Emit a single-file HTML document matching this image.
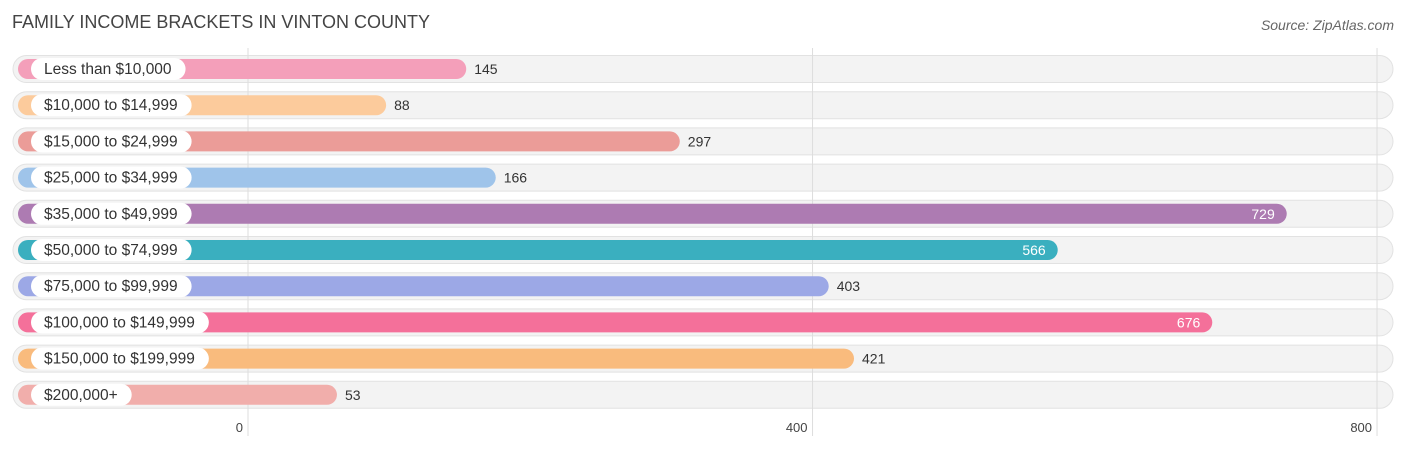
<!DOCTYPE html>
<html><head><meta charset="utf-8"><style>
body{margin:0;background:#fff;width:1406px;height:450px;overflow:hidden;font-family:"Liberation Sans",sans-serif}
</style></head><body>
<svg id="chart" width="1406" height="450" xmlns="http://www.w3.org/2000/svg">
<text x="12" y="28" font-size="18" fill="#444">FAMILY INCOME BRACKETS IN VINTON COUNTY</text>
<text x="1394" y="30" font-size="14" fill="#666" font-style="italic" text-anchor="end">Source: ZipAtlas.com</text>
<g id="bgs"></g><g id="grid"></g><g id="rows"></g><g id="ticks"></g>
</svg>
<script>
const categories=["Less than $10,000","$10,000 to $14,999","$15,000 to $24,999","$25,000 to $34,999","$35,000 to $49,999","$50,000 to $74,999","$75,000 to $99,999","$100,000 to $149,999","$150,000 to $199,999","$200,000+"];
const values=[145,88,297,166,729,566,403,676,421,53];
const colors=["#f49fba","#fccb9c","#eb9c98","#9fc4ea","#ad7bb2","#3aafbf","#9ca8e6","#f4709a","#f9bb7d","#f1aeab"];
const tickValues=[0,400,800];
const NS="http://www.w3.org/2000/svg";
const gx=v=>248+v*1.4113;
const bx=v=>262.5+v*1.405;
const rowY=i=>69+i*36.2;
function mk(t,a,p){const e=document.createElementNS(NS,t);for(const k in a)e.setAttribute(k,a[k]);p.appendChild(e);return e;}
const bgs=document.getElementById('bgs'),grid=document.getElementById('grid'),rows=document.getElementById('rows'),ticks=document.getElementById('ticks');
tickValues.forEach(t=>{
 const l=mk('line',{x1:gx(t),x2:gx(t),y1:48,y2:436,stroke:'#ddd','stroke-width':1},grid);
 
 
 const tx=mk('text',{x:gx(t)-5,y:432,'font-size':13,fill:'#444','text-anchor':'end'},ticks);
 tx.textContent=t;
 
 
});
categories.forEach((c,i)=>{
 const y=rowY(i);
 const bg=mk('rect',{x:13,y:y-13.5,width:1380,height:27,rx:13.5,fill:'#f3f3f3',stroke:'#e2e2e2','stroke-width':1},bgs);
 
 
 const g=mk('g',{},rows);
 
 
 const ex=bx(values[i]);
 const b=mk('rect',{x:18,y:y-10,width:ex-18,height:20,rx:10,fill:colors[i]},g);
 
 
 const lt=mk('text',{x:44,y:y+5,'font-size':15.5,fill:'#333'},g);
 lt.textContent=c;
 
 
 const lw=lt.getComputedTextLength()+27;
 const p=mk('rect',{x:31,y:y-11,width:lw,height:22,rx:11,fill:'#fff'},g);
 g.insertBefore(p,lt);
 
 
 const inside=values[i]>500;
 const vt=mk('text',{x:inside?ex-12:ex+8,y:y+5,'font-size':14,fill:inside?'#fff':'#333','text-anchor':inside?'end':'start'},g);
 vt.textContent=values[i];
 
 
});
</script>
</body></html>
